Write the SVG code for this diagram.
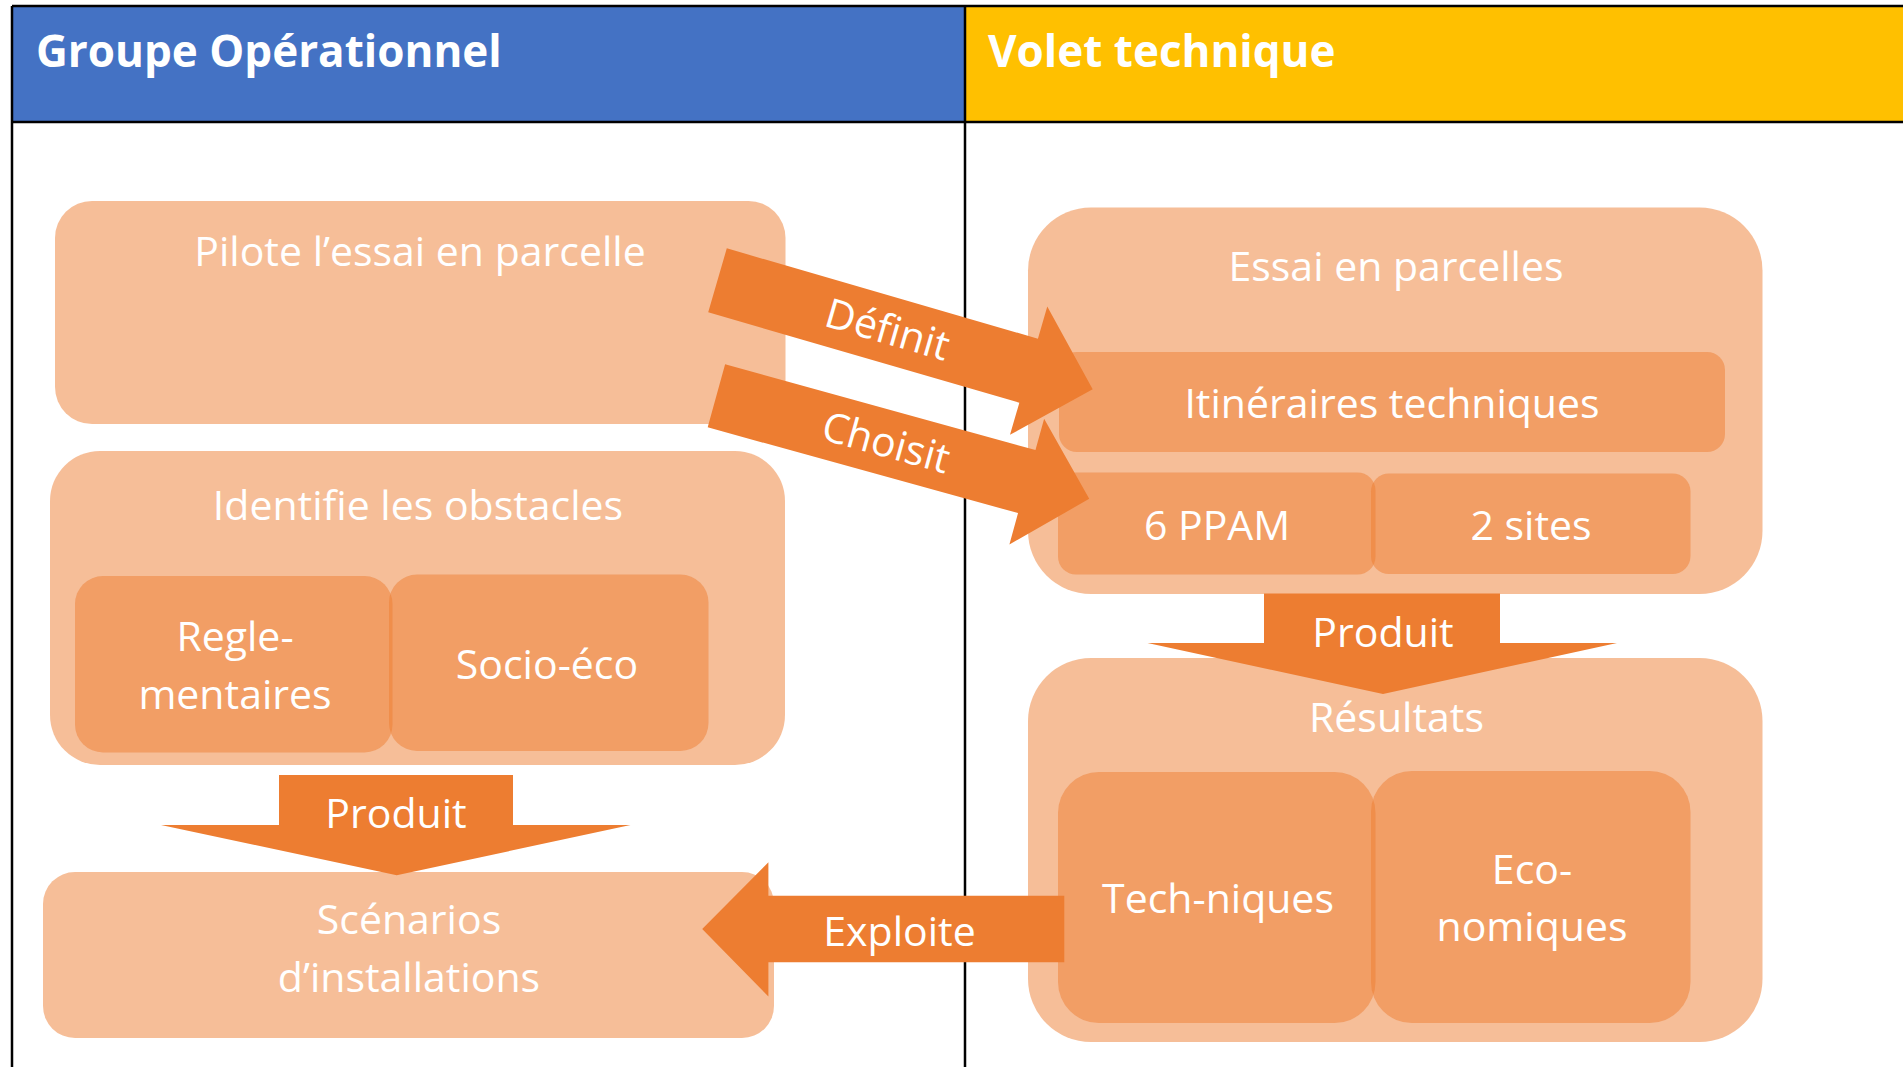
<svg xmlns="http://www.w3.org/2000/svg" width="1903" height="1067" viewBox="0 0 1903 1067">
<style>
.t{font-family:"Open Sans","Noto Sans",sans-serif;font-size:41px;fill:#FFFFFF;text-anchor:middle}
.h{font-family:"Open Sans","Noto Sans",sans-serif;font-size:44px;font-weight:bold;fill:#FFFFFF}
.box{fill:#ED7D31;fill-opacity:0.5}
.arr{fill:#ED7D31}
.ln{stroke:#000000;stroke-width:2.5;fill:none}
</style>
<rect x="0" y="0" width="1903" height="1067" fill="#FFFFFF"/>
<g id="header-groupe">
<rect x="12" y="6" width="953" height="116" fill="#4472C4"/>
<text class="h" x="36" y="67">Groupe Opérationnel</text>
</g>
<g id="header-volet">
<rect x="965" y="6" width="938" height="116" fill="#FFC000"/>
<text class="h" x="988" y="67">Volet technique</text>
</g>
<g id="grid-lines">
<line class="ln" x1="12" y1="6" x2="1903" y2="6"/>
<line class="ln" x1="12" y1="122" x2="1903" y2="122"/>
<line class="ln" x1="12" y1="6" x2="12" y2="1067"/>
<line class="ln" x1="965" y1="6" x2="965" y2="1067"/>
</g>
<g id="pilote">
<rect class="box" x="55" y="201" width="730.5" height="223" rx="37"/>
<text class="t" x="420" y="266">Pilote l’essai en parcelle</text>
</g>
<g id="identifie">
<rect class="box" x="50" y="451" width="735" height="314" rx="50"/>
<text class="t" x="418" y="520">Identifie les obstacles</text>
</g>
<g id="reglementaires">
<rect class="box" x="75" y="576" width="317.5" height="176.5" rx="28"/>
<text class="t" x="235" y="651">Regle-</text>
<text class="t" x="235" y="709">mentaires</text>
</g>
<g id="socio-eco">
<rect class="box" x="389" y="574.5" width="319.5" height="176.5" rx="28"/>
<text class="t" x="547" y="679">Socio-éco</text>
</g>
<g id="scenarios">
<rect class="box" x="43" y="872" width="731" height="166" rx="32"/>
<text class="t" x="409" y="934">Scénarios</text>
<text class="t" x="409" y="992">d’installations</text>
</g>
<g id="essai">
<rect class="box" x="1028" y="207.5" width="734.5" height="386.5" rx="63"/>
<text class="t" x="1396" y="281">Essai en parcelles</text>
</g>
<g id="itineraires">
<rect class="box" x="1059" y="352" width="666" height="100" rx="18"/>
<text class="t" x="1392" y="418">Itinéraires techniques</text>
</g>
<g id="ppam">
<rect class="box" x="1058" y="472.5" width="317.5" height="102" rx="18"/>
<text class="t" x="1217" y="540">6 PPAM</text>
</g>
<g id="sites">
<rect class="box" x="1371" y="473.5" width="319.5" height="100.5" rx="18"/>
<text class="t" x="1531" y="540">2 sites</text>
</g>
<g id="resultats">
<rect class="box" x="1028" y="658" width="734.5" height="384" rx="63"/>
<text class="t" x="1396.5" y="732">Résultats</text>
</g>
<g id="techniques">
<rect class="box" x="1058" y="772" width="317.5" height="251" rx="41"/>
<text class="t" x="1218" y="913">Tech-niques</text>
</g>
<g id="economiques">
<rect class="box" x="1371" y="771" width="319.5" height="252" rx="41"/>
<text class="t" x="1532" y="884">Eco-</text>
<text class="t" x="1532" y="941">nomiques</text>
</g>
<g id="connectors">
<g transform="translate(717.5 280.3) rotate(16.2)">
<polygon class="arr" points="0,-33.3 324,-33.3 324,-66.8 390.7,0 324,66.8 324,33.3 0,33.3"/>
<text class="t" x="177" y="14">Définit</text>
</g>
<g transform="translate(716.4 395.8) rotate(15.45)">
<polygon class="arr" points="0,-32.7 322,-32.7 322,-65.2 386.8,0 322,65.2 322,32.7 0,32.7"/>
<text class="t" x="176" y="14">Choisit</text>
</g>
<polygon class="arr" points="279,775 513,775 513,825 630.5,825 396.7,875.3 161,825 279,825"/>
<text class="t" x="396" y="828">Produit</text>
<polygon class="arr" points="1264,593.5 1500,593.5 1500,643 1617,643 1383,694 1147.5,643 1264,643"/>
<text class="t" x="1383" y="646.5">Produit</text>
<polygon class="arr" points="1064.3,895.8 768.4,895.8 768.4,862.2 702.2,929 768.4,996.5 768.4,962.2 1064.3,962.2"/>
<text class="t" x="899.5" y="946">Exploite</text>
</g>
</svg>
